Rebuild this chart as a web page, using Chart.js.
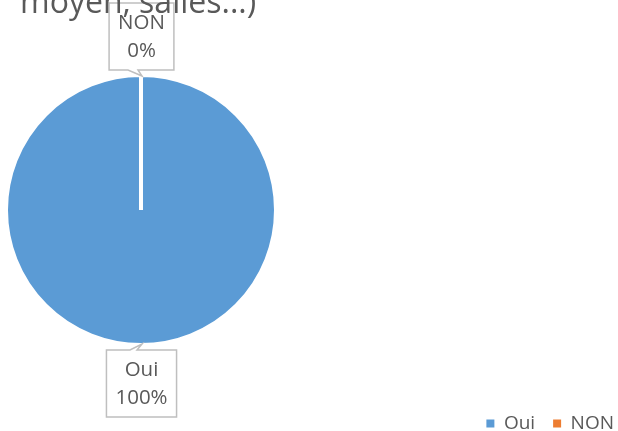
<!DOCTYPE html>
<html>
<head>
<meta charset="utf-8">
<script src="https://cdn.jsdelivr.net/npm/chart.js@4"></script>
<style>
  html, body { margin: 0; padding: 0; background: #ffffff; }
  #wrap { position: relative; width: 618px; height: 431px; }
</style>
</head>
<body>
<div id="wrap"><canvas id="c" width="618" height="431"></canvas></div>
<script>
const titleText = "moyen, salles...)";
const categories = ["Oui", "NON"];
const values = [100, 0];
const percentLabels = ["100%", "0%"];
const colors = ["#5b9bd5", "#ed7d31"];

const TEXT_COLOR = "#595959";
const FONT = "'Open Sans', 'DejaVu Sans', sans-serif";

// Force the pie's drawing area (pie sits at the left of the canvas)
const placePie = {
  id: "placePie",
  afterLayout(chart) {
    const a = chart.chartArea;
    a.left = 4; a.right = 278; a.top = 73; a.bottom = 347;
    a.width = a.right - a.left; a.height = a.bottom - a.top;
  }
};

// Callout data labels, positioned from the arc elements
const callouts = {
  id: "callouts",
  afterDatasetsDraw(chart) {
    const ctx = chart.ctx;
    const meta = chart.getDatasetMeta(0);
    const bw = chart.data.datasets[0].borderWidth || 0;
    meta.data.forEach((arc, i) => {
      const p = arc.getProps(["x", "y", "startAngle", "endAngle", "outerRadius"], true);
      const mid = (p.startAngle + p.endAngle) / 2;
      const dx = Math.cos(mid), dy = Math.sin(mid);
      const edge = p.outerRadius - bw / 2 + 1;
      const ax = p.x + dx * edge, ay = p.y + dy * edge;
      ctx.save();
      ctx.font = "20.5px " + FONT;
      const lines = [categories[i], percentLabels[i]];
      const tw = Math.max(...lines.map(t => ctx.measureText(t).width));
      const w = Math.max(64, tw + 18);
      const h = 67;
      const gap = 6;
      const cx = ax + dx * (gap + h / 2) + 0.5;
      const cy = ay + dy * (gap + h / 2);
      const L = cx - w / 2, R = cx + w / 2, T = cy - h / 2, B = cy + h / 2;
      ctx.beginPath();
      if (dy > 0) {
        ctx.moveTo(L, T);
        ctx.lineTo(ax - 11, T);
        ctx.lineTo(ax + 1, ay);
        ctx.lineTo(ax - 4, T);
        ctx.lineTo(R, T);
        ctx.lineTo(R, B);
        ctx.lineTo(L, B);
        ctx.closePath();
      } else {
        ctx.moveTo(L, T);
        ctx.lineTo(R, T);
        ctx.lineTo(R, B);
        ctx.lineTo(ax - 3, B);
        ctx.lineTo(ax + 1, ay);
        ctx.lineTo(ax - 13, B);
        ctx.lineTo(L, B);
        ctx.closePath();
      }
      ctx.fillStyle = "#ffffff";
      ctx.fill();
      ctx.strokeStyle = "#bfbfbf";
      ctx.lineWidth = 1.5;
      ctx.stroke();
      ctx.fillStyle = TEXT_COLOR;
      ctx.textAlign = "center";
      ctx.textBaseline = "middle";
      ctx.fillText(lines[0], cx, cy - 13);
      ctx.fillText(lines[1], cx, cy + 15);
      ctx.restore();
    });
  },
  afterDraw(chart) {
    const ctx = chart.ctx;
    ctx.save();
    ctx.font = "32px " + FONT;
    ctx.fillStyle = TEXT_COLOR;
    ctx.textAlign = "left";
    ctx.textBaseline = "alphabetic";
    ctx.fillText(titleText, 20, 13);
    ctx.restore();
  }
};

new Chart(document.getElementById("c"), {
  type: "pie",
  data: {
    labels: categories,
    datasets: [{
      data: values,
      backgroundColor: colors,
      borderColor: "#ffffff",
      borderWidth: 4
    }]
  },
  options: {
    responsive: false,
    animation: false,
    layout: { padding: { left: 0, right: -14, top: 0, bottom: -12 } },
    plugins: {
      legend: {
        position: "bottom",
        align: "end",
        labels: {
          boxWidth: 8,
          boxHeight: 8,
          padding: 18,
          color: TEXT_COLOR,
          font: { family: FONT, size: 19 },
          generateLabels(chart) {
            const items = Chart.overrides.pie.plugins.legend.labels.generateLabels(chart);
            items.forEach(it => { it.lineWidth = 0; it.strokeStyle = it.fillStyle; });
            return items;
          }
        }
      },
      title: { display: false },
      tooltip: { enabled: false }
    }
  },
  plugins: [placePie, callouts]
});
</script>
</body>
</html>
